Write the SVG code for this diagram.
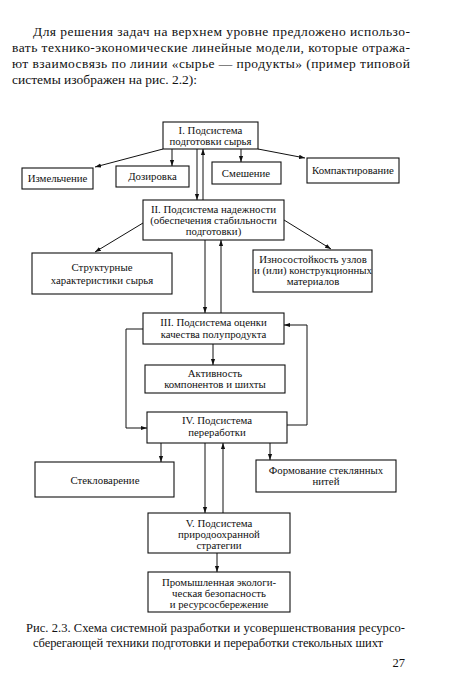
<svg xmlns="http://www.w3.org/2000/svg" width="450" height="699" viewBox="0 0 450 699">
<style>
.bx{fill:#fff;stroke:#111;stroke-width:1.1}
.t{font-family:"Liberation Serif","Times New Roman",serif;font-size:10.8px;fill:#111;text-anchor:middle}
.p{font-family:"Liberation Serif","Times New Roman",serif;font-size:13.5px;fill:#111}
.c{font-family:"Liberation Serif","Times New Roman",serif;font-size:12.5px;fill:#111}
.ln{fill:none;stroke:#111;stroke-width:1}
.ar{fill:none;stroke:#111;stroke-width:1;marker-end:url(#ah)}
</style>
<defs>
<marker id="ah" viewBox="0 0 10 10" refX="10" refY="5" markerWidth="6" markerHeight="6" orient="auto" markerUnits="userSpaceOnUse">
<path d="M0,1.5 L10,5 L0,8.5 z" fill="#111"/>
</marker>
</defs>
<rect width="450" height="699" fill="#fff"/>

<g id="paragraph">
<text class="p" x="33" y="36" textLength="377" lengthAdjust="spacing">Для решения задач на верхнем уровне предложено использо-</text>
<text class="p" x="12" y="52" textLength="398" lengthAdjust="spacing">вать технико-экономические линейные модели, которые отража-</text>
<text class="p" x="12" y="68" textLength="398" lengthAdjust="spacing">ют взаимосвязь по линии «сырье — продукты» (пример типовой</text>
<text class="p" x="12" y="84">системы изображен на рис. 2.2):</text>
</g>

<g id="connectors">
<path class="ar" d="M163,149 L95,167"/>
<path class="ar" d="M172,149 L172,166"/>
<path class="ar" d="M241,149 L241,162"/>
<path class="ar" d="M258,149 L305,158"/>
<path class="ar" d="M197,149 L197,200"/>
<path class="ar" d="M203,200 L203,149"/>
<path class="ar" d="M143,223 L95,252"/>
<path class="ar" d="M284,220 L331,249"/>
<path class="ar" d="M205,240 L205,313"/>
<path class="ar" d="M221,313 L221,240"/>
<path class="ar" d="M213,344 L213,365"/>
<path class="ar" d="M143,329 L126,329 L126,428 L147,428"/>
<path class="ar" d="M287,425 L307,425 L307,325 L284,325"/>
<path class="ar" d="M161,443 L161,462"/>
<path class="ar" d="M270,443 L270,460"/>
<path class="ar" d="M205,443 L205,513"/>
<path class="ar" d="M223,513 L223,443"/>
<path class="ar" d="M217,553 L217,572"/>
</g>

<g id="n1">
<rect class="bx" x="163" y="122" width="95" height="27"/>
<text class="t" x="210.5" y="134">I. Подсистема</text>
<text class="t" x="210.5" y="145">подготовки сырья</text>
</g>
<g id="n_izm">
<rect class="bx" x="22" y="168" width="71" height="21"/>
<text class="t" x="57.5" y="182">Измельчение</text>
</g>
<g id="n_doz">
<rect class="bx" x="116" y="166" width="73" height="21"/>
<text class="t" x="152.5" y="180">Дозировка</text>
</g>
<g id="n_sme">
<rect class="bx" x="212" y="162" width="69" height="22"/>
<text class="t" x="246" y="177">Смешение</text>
</g>
<g id="n_kom">
<rect class="bx" x="307" y="158" width="92" height="25"/>
<text class="t" x="353" y="174">Компактирование</text>
</g>

<g id="n2">
<rect class="bx" x="143" y="200" width="141" height="40"/>
<text class="t" x="213.5" y="213">II. Подсистема надежности</text>
<text class="t" x="213.5" y="224">(обеспечения стабильности</text>
<text class="t" x="213.5" y="235">подготовки)</text>
</g>
<g id="n_str">
<rect class="bx" x="32" y="253" width="140" height="41"/>
<text class="t" x="102" y="271">Структурные</text>
<text class="t" x="102" y="284">характеристики сырья</text>
</g>
<g id="n_izn">
<rect class="bx" x="253" y="250" width="119" height="42"/>
<text class="t" x="313" y="263">Износостойкость узлов</text>
<text class="t" x="313" y="274">и (или)  конструкционных</text>
<text class="t" x="313" y="285">материалов</text>
</g>

<g id="n3">
<rect class="bx" x="143" y="313" width="141" height="31"/>
<text class="t" x="213.5" y="326">III. Подсистема оценки</text>
<text class="t" x="213.5" y="338">качества полупродукта</text>
</g>
<g id="n_akt">
<rect class="bx" x="145" y="365" width="140" height="28"/>
<text class="t" x="215" y="377">Активность</text>
<text class="t" x="215" y="388">компонентов и шихты</text>
</g>

<g id="n4">
<rect class="bx" x="147" y="412" width="140" height="31"/>
<text class="t" x="217" y="424">IV. Подсистема</text>
<text class="t" x="217" y="436">переработки</text>
</g>
<g id="n_stek">
<rect class="bx" x="35" y="462" width="139" height="35"/>
<text class="t" x="105" y="484">Стекловарение</text>
</g>
<g id="n_form">
<rect class="bx" x="256" y="460" width="140" height="32"/>
<text class="t" x="326" y="474">Формование стеклянных</text>
<text class="t" x="326" y="485">нитей</text>
</g>

<g id="n5">
<rect class="bx" x="148" y="513" width="142" height="40"/>
<text class="t" x="219" y="527">V. Подсистема</text>
<text class="t" x="219" y="538">природоохранной</text>
<text class="t" x="219" y="549">стратегии</text>
</g>
<g id="n_prom">
<rect class="bx" x="148" y="572" width="142" height="40"/>
<text class="t" x="219" y="586">Промышленная экологи-</text>
<text class="t" x="219" y="597">ческая безопасность</text>
<text class="t" x="219" y="608">и ресурсосбережение</text>
</g>

<g id="caption">
<text class="c" x="26" y="632" textLength="379" lengthAdjust="spacing">Рис. 2.3. Схема системной разработки и усовершенствования ресурсо-</text>
<text class="c" x="33" y="647" textLength="350" lengthAdjust="spacing">сберегающей техники подготовки и переработки стекольных шихт</text>
<text class="c" x="405" y="667" text-anchor="end">27</text>
</g>
</svg>
